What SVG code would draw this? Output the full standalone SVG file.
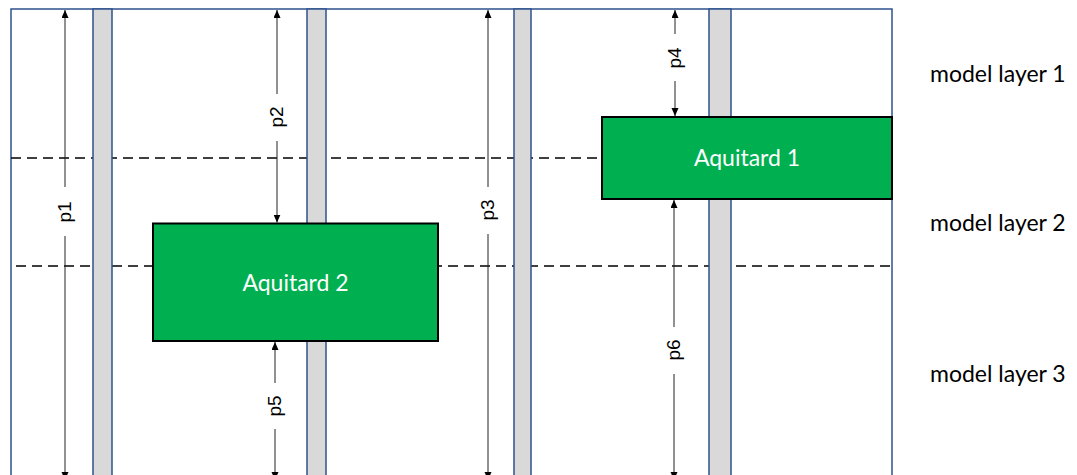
<svg xmlns="http://www.w3.org/2000/svg" width="1077" height="475" viewBox="0 0 1077 475">
<defs>
<marker id="ah" markerUnits="userSpaceOnUse" markerWidth="9" markerHeight="8" refX="8" refY="3.5" orient="auto-start-reverse">
<path d="M0,0 L8,3.5 L0,7 z" fill="#000"/>
</marker>
<style>
.frame{fill:none;stroke:#2F528F;stroke-width:1.5}
.col{fill:#D9D9D9;stroke:#2F528F;stroke-width:1.5}
.dash{stroke:#000;stroke-width:1.5;stroke-dasharray:10 6;fill:none}
.aq{fill:#00B050;stroke:#000;stroke-width:2}
.aqt{font-family:Lato,"Noto Sans",sans-serif;font-size:23px;fill:#fff;text-anchor:middle}
.lay{font-family:Lato,"Noto Sans",sans-serif;font-size:23px;fill:#000}
.arr{stroke:#222;stroke-width:1;fill:none}
.pl{font-family:"Liberation Sans",Arial,sans-serif;font-size:19px;fill:#000;text-anchor:middle}
</style>
</defs>
<rect width="1077" height="475" fill="#fff"/>
<g id="frame">
<rect class="frame" x="11" y="9" width="881" height="480"/>
</g>
<g id="layer-boundaries">
<line class="dash" x1="11" y1="158" x2="602" y2="158"/>
<line class="dash" x1="16" y1="266" x2="892" y2="266"/>
</g>
<g id="wells">
<rect class="col" x="93" y="9" width="19" height="480"/>
<rect class="col" x="307" y="9" width="19" height="480"/>
<rect class="col" x="514" y="9" width="17" height="480"/>
<rect class="col" x="709" y="9" width="22" height="480"/>
</g>
<g id="aquitard2">
<rect class="aq" x="153" y="223.5" width="285" height="117.5"/>
<text class="aqt" x="295.5" y="291">Aquitard 2</text>
</g>
<g id="aquitard1">
<rect class="aq" x="602" y="117" width="290" height="82"/>
<text class="aqt" x="747" y="166">Aquitard 1</text>
</g>
<g id="connectors">
<line class="arr" x1="65" y1="187" x2="65" y2="10" marker-end="url(#ah)"/>
<line class="arr" x1="65" y1="236" x2="65" y2="480" marker-end="url(#ah)"/>
<line class="arr" x1="277" y1="94" x2="277" y2="10" marker-end="url(#ah)"/>
<line class="arr" x1="277" y1="141" x2="277" y2="222.5" marker-end="url(#ah)"/>
<line class="arr" x1="488" y1="187" x2="488" y2="10" marker-end="url(#ah)"/>
<line class="arr" x1="488" y1="234" x2="488" y2="480" marker-end="url(#ah)"/>
<line class="arr" x1="675" y1="34" x2="675" y2="10" marker-end="url(#ah)"/>
<line class="arr" x1="675" y1="81" x2="675" y2="116" marker-end="url(#ah)"/>
<line class="arr" x1="275" y1="383" x2="275" y2="342" marker-end="url(#ah)"/>
<line class="arr" x1="275" y1="429" x2="275" y2="480" marker-end="url(#ah)"/>
<line class="arr" x1="674" y1="327" x2="674" y2="200" marker-end="url(#ah)"/>
<line class="arr" x1="674" y1="374" x2="674" y2="480" marker-end="url(#ah)"/>
</g>
<g id="labels">
<text class="pl" transform="translate(65,212) rotate(-90)" y="6">p1</text>
<text class="pl" transform="translate(277,117) rotate(-90)" y="6">p2</text>
<text class="pl" transform="translate(488,210) rotate(-90)" y="6">p3</text>
<text class="pl" transform="translate(675,58) rotate(-90)" y="6">p4</text>
<text class="pl" transform="translate(275,406) rotate(-90)" y="6">p5</text>
<text class="pl" transform="translate(674,350) rotate(-90)" y="6">p6</text>
</g>
<g id="layer-names">
<text class="lay" x="930" y="82">model layer 1</text>
<text class="lay" x="930" y="231">model layer 2</text>
<text class="lay" x="930" y="382">model layer 3</text>
</g>
</svg>
